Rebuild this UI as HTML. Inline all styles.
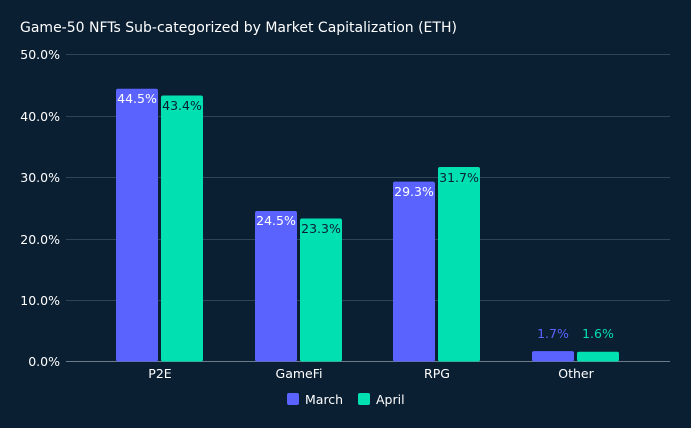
<!DOCTYPE html>
<html><head><meta charset="utf-8"><style>
html,body{margin:0;padding:0;background:#0b1f33;}
svg{display:block;font-family:"DejaVu Sans","Liberation Sans",sans-serif;}
</style></head><body>
<svg width="691" height="428" viewBox="0 0 691 428">
<rect width="691" height="428" fill="#0b1f33"/>
<text x="20" y="32" fill="#ffffff" font-size="14">Game-50 NFTs Sub-categorized by Market Capitalization (ETH)</text>
<g stroke="#2e4457" stroke-width="1">
<line x1="66" x2="670" y1="54.5" y2="54.5"/>
<line x1="66" x2="670" y1="116.5" y2="116.5"/>
<line x1="66" x2="670" y1="177.5" y2="177.5"/>
<line x1="66" x2="670" y1="239.5" y2="239.5"/>
<line x1="66" x2="670" y1="300.5" y2="300.5"/>
</g>
<line x1="66" x2="670" y1="361.5" y2="361.5" stroke="#6b7b8a"/>
<g fill="#ffffff" font-size="12.5" text-anchor="end">
<text x="60" y="59">50.0%</text>
<text x="60" y="121">40.0%</text>
<text x="60" y="182">30.0%</text>
<text x="60" y="244">20.0%</text>
<text x="60" y="305">10.0%</text>
<text x="60" y="366">0.0%</text>
</g>
<g fill="#5b63ff">
<rect x="116" y="88.8" width="42" height="272.7" rx="2"/>
<rect x="255" y="211" width="42" height="150.5" rx="2"/>
<rect x="393" y="181.6" width="42" height="179.9" rx="2"/>
<rect x="532" y="351.1" width="42" height="10.4" rx="2"/>
</g>
<g fill="#00e0b0">
<rect x="161" y="95.5" width="42" height="266" rx="2"/>
<rect x="300" y="218.5" width="42" height="143" rx="2"/>
<rect x="438" y="167" width="42" height="194.5" rx="2"/>
<rect x="577" y="351.7" width="42" height="9.8" rx="2"/>
</g>
<g font-size="12.5" text-anchor="middle">
<text x="137" y="103" fill="#ffffff">44.5%</text>
<text x="182" y="110" fill="#0b1f33">43.4%</text>
<text x="276" y="225" fill="#ffffff">24.5%</text>
<text x="321" y="233" fill="#0b1f33">23.3%</text>
<text x="414" y="196" fill="#ffffff">29.3%</text>
<text x="459" y="182" fill="#0b1f33">31.7%</text>
<text x="553" y="338" fill="#5b63ff">1.7%</text>
<text x="598" y="338" fill="#00e0b0">1.6%</text>
</g>
<g fill="#ffffff" font-size="12.5" text-anchor="middle">
<text x="160" y="378">P2E</text>
<text x="299" y="378">GameFi</text>
<text x="437" y="378">RPG</text>
<text x="576" y="378">Other</text>
</g>
<rect x="287" y="393" width="12" height="12" rx="2" fill="#5b63ff"/>
<text x="305" y="404" fill="#ffffff" font-size="12.5">March</text>
<rect x="358" y="393" width="12" height="12" rx="2" fill="#00e0b0"/>
<text x="376" y="404" fill="#ffffff" font-size="12.5">April</text>
</svg>
</body></html>
